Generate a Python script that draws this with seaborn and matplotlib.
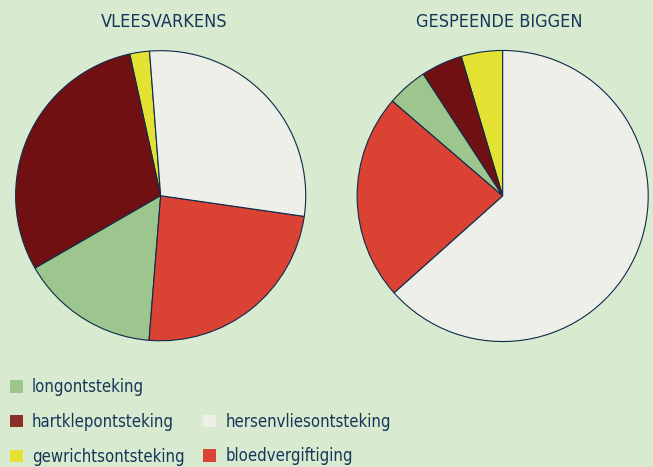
import matplotlib
matplotlib.use("Agg")
import matplotlib.pyplot as plt
from matplotlib.patches import Patch
import seaborn as sns

# slice order: counter-clockwise from the top
categories = ["gewrichtsontsteking", "hartklepontsteking", "longontsteking",
              "bloedvergiftiging", "hersenvliesontsteking"]
vleesvarkens = [2.2, 29.9, 15.4, 24.0, 28.5]
gespeende_biggen = [4.6, 4.6, 4.5, 22.9, 63.4]
titles = ["VLEESVARKENS", "GESPEENDE BIGGEN"]

colors = {
    "longontsteking": "#9dc58e",
    "hartklepontsteking": "#711012",
    "gewrichtsontsteking": "#e3e232",
    "hersenvliesontsteking": "#efefea",
    "bloedvergiftiging": "#da4233",
}
legend_colors = dict(colors, hartklepontsteking="#8a2f28")

bg = "#d8eacf"
ink = "#17375a"
edge = "#0d2a4a"

sns.set_theme(style="white")
plt.rcParams["font.family"] = ["DejaVu Sans"]
plt.rcParams["font.stretch"] = "condensed"

fig = plt.figure(figsize=(6.53, 4.67), dpi=100)
fig.patch.set_facecolor(bg)

positions = [
    [0.0217, 0.2672, 0.4487, 0.6274],
    [0.5447, 0.2655, 0.4502, 0.6296],
]
starts = [94.4, 90]
pal = sns.color_palette([colors[c] for c in categories])

for pos, vals, start in zip(positions, [vleesvarkens, gespeende_biggen], starts):
    ax = fig.add_axes(pos)
    ax.set_facecolor(bg)
    ax.pie(vals, colors=pal, startangle=start, counterclock=True,
           wedgeprops={"edgecolor": edge, "linewidth": 0.8})
    ax.set_xlim(-1.01, 1.01)
    ax.set_ylim(-1.01, 1.01)
    ax.axis("off")

fig.text(0.251, 0.953, titles[0], ha="center", va="center", fontsize=13, color=ink)
fig.text(0.765, 0.953, titles[1], ha="center", va="center", fontsize=13, color=ink)

col1 = ["longontsteking", "hartklepontsteking", "gewrichtsontsteking"]
col2 = ["hersenvliesontsteking", "bloedvergiftiging"]

leg_kw = dict(frameon=False, fontsize=12, labelcolor=ink, loc="upper left",
              handlelength=0.78, handleheight=0.78, handletextpad=0.55,
              labelspacing=1.0, borderpad=0, borderaxespad=0)

h1 = [Patch(facecolor=legend_colors[c], edgecolor="none", label=c) for c in col1]
h2 = [Patch(facecolor=legend_colors[c], edgecolor="none", label=c) for c in col2]
fig.legend(handles=h1, bbox_to_anchor=(0.015, 0.19), **leg_kw)
fig.legend(handles=h2, bbox_to_anchor=(0.311, 0.116), **leg_kw)

fig.savefig("out.png", dpi=100, facecolor=bg)
